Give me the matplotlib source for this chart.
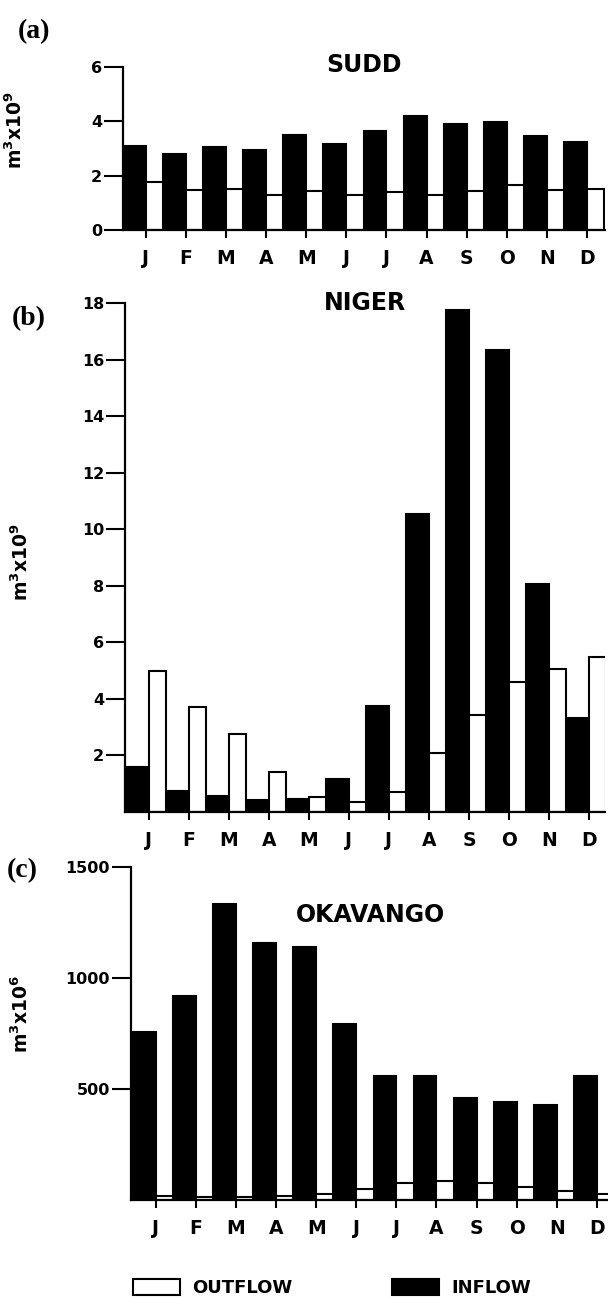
import numpy as np
import matplotlib.pyplot as plt
from matplotlib.patches import Patch

months = ['J', 'F', 'M', 'A', 'M', 'J', 'J', 'A', 'S', 'O', 'N', 'D']

# SUDD, m3 x 10^9
sudd_inflow = [3.10, 2.78, 3.05, 2.95, 3.50, 3.17, 3.64, 4.19, 3.89, 3.96, 3.47, 3.23]
sudd_outflow = [1.75, 1.47, 1.50, 1.30, 1.45, 1.28, 1.39, 1.30, 1.45, 1.66, 1.49, 1.51]

# NIGER, m3 x 10^9
niger_inflow = [1.58, 0.76, 0.55, 0.44, 0.47, 1.18, 3.75, 10.55, 17.76, 16.33, 8.05, 3.32]
niger_outflow = [5.00, 3.73, 2.75, 1.40, 0.52, 0.35, 0.69, 2.08, 3.44, 4.61, 5.05, 5.47]

# OKAVANGO, m3 x 10^6
oka_inflow = [758, 920, 1332, 1158, 1140, 792, 560, 560, 460, 440, 428, 560]
oka_outflow = [20, 15, 15, 18, 28, 50, 75, 85, 75, 60, 40, 25]

plt.rcParams['font.family'] = 'DejaVu Sans'
plt.rcParams['font.weight'] = 'bold'
plt.rcParams['mathtext.fontset'] = 'dejavusans'
plt.rcParams['mathtext.default'] = 'bf'

W, H = 608, 1298
fig = plt.figure(figsize=(W / 100, H / 100), dpi=100)


def px_axes(left, right, top, bottom):
    return fig.add_axes([left / W, 1 - bottom / H, (right - left) / W, (bottom - top) / H])


def draw_panel(ax, inflow, outflow, ylim, yticks, xlim, title, title_y, ylab_xy, unit):
    x = np.arange(len(months))
    ax.bar(x, inflow, width=-0.57, align='edge', color='black',
           edgecolor='black', linewidth=1.5, zorder=2)
    ax.bar(x, outflow, width=0.43, align='edge', color='white',
           edgecolor='black', linewidth=1.5, zorder=2)
    ax.set_xlim(*xlim)
    ax.set_ylim(*ylim)
    ax.set_yticks(yticks)
    ax.set_xticks(x)
    ax.set_xticklabels(months, fontsize=13.5, fontweight='bold')
    for lab in ax.get_yticklabels():
        lab.set_fontsize(11.5)
        lab.set_fontweight('bold')
    ax.tick_params(axis='y', direction='out', length=13.5, width=1.5, pad=1.5)
    ax.tick_params(axis='x', direction='out', length=5.5, width=1.5, pad=8)
    for s in ['top', 'right']:
        ax.spines[s].set_visible(False)
    for s in ['left', 'bottom']:
        ax.spines[s].set_linewidth(1.6)
    ax.text(0.5, title_y, title, transform=ax.transAxes, ha='center', va='center',
            fontsize=17, fontweight='bold')
    ax.set_ylabel(r'm$^{3}$x10$^{%s}$' % unit, fontsize=13.5, fontweight='bold')
    ax.yaxis.set_label_coords(*ylab_xy)


ax_a = px_axes(123, 605, 67, 230)
draw_panel(ax_a, sudd_inflow, sudd_outflow, (0, 6), [0, 2, 4, 6], (-0.57, 11.45),
           'SUDD', 1.01, (-0.201, 0.613), '9')

ax_b = px_axes(125, 605, 303, 812)
draw_panel(ax_b, niger_inflow, niger_outflow, (0, 18), [2, 4, 6, 8, 10, 12, 14, 16, 18],
           (-0.6, 11.4), 'NIGER', 1.0, (-0.194, 0.491), '9')

ax_c = px_axes(131, 610, 867, 1200)
draw_panel(ax_c, oka_inflow, oka_outflow, (0, 1500), [500, 1000, 1500], (-0.62, 11.33),
           'OKAVANGO', 0.856, (-0.207, 0.56), '6')

for lab, (px, py) in zip(['(a)', '(b)', '(c)'], [(34, 32), (29, 319), (22, 871)]):
    fig.text(px / W, 1 - py / H, lab, ha='center', va='center', fontsize=20,
             fontweight='bold', family='Liberation Serif')

handles = [Patch(facecolor='white', edgecolor='black', linewidth=1.5),
           Patch(facecolor='black', edgecolor='black', linewidth=1.5)]
fig.legend(handles, ['OUTFLOW', 'INFLOW'], loc='center left',
           bbox_to_anchor=(133 / W, 1 - 1288 / H), ncol=2, frameon=False,
           handlelength=2.6, handleheight=0.95, columnspacing=5.5,
           handletextpad=0.7, borderpad=0, borderaxespad=0,
           prop={'weight': 'bold', 'size': 13})

fig.savefig('out.png', dpi=100)
